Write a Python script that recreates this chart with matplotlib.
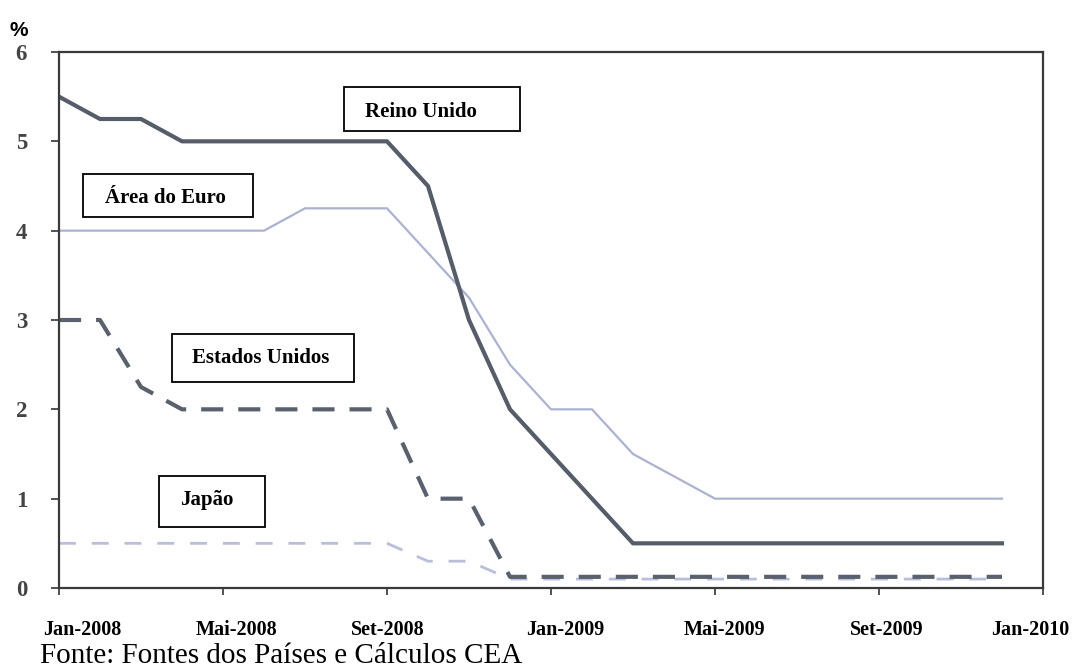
import matplotlib
matplotlib.use("Agg")
import matplotlib.pyplot as plt
from matplotlib.patches import Rectangle
import matplotlib.transforms as mtransforms

# Policy rates, monthly from Jan-2008 (month 0) to Dec-2009 (month 23)
months = list(range(24))
reino_unido = [5.5, 5.25, 5.25, 5.0, 5.0, 5.0, 5.0, 5.0, 5.0, 4.5, 3.0, 2.0,
               1.5, 1.0, 0.5, 0.5, 0.5, 0.5, 0.5, 0.5, 0.5, 0.5, 0.5, 0.5]
area_euro = [4.0, 4.0, 4.0, 4.0, 4.0, 4.0, 4.25, 4.25, 4.25, 3.75, 3.25, 2.5,
             2.0, 2.0, 1.5, 1.25, 1.0, 1.0, 1.0, 1.0, 1.0, 1.0, 1.0, 1.0]
estados_unidos = [3.0, 3.0, 2.25, 2.0, 2.0, 2.0, 2.0, 2.0, 2.0, 1.0, 1.0, 0.125,
                  0.125, 0.125, 0.125, 0.125, 0.125, 0.125, 0.125, 0.125, 0.125,
                  0.125, 0.125, 0.125]
japao = [0.5, 0.5, 0.5, 0.5, 0.5, 0.5, 0.5, 0.5, 0.5, 0.3, 0.3, 0.1,
         0.1, 0.1, 0.1, 0.1, 0.1, 0.1, 0.1, 0.1, 0.1, 0.1, 0.1, 0.1]

tick_months = [0, 4, 8, 12, 16, 20, 24]
tick_labels = ["Jan-2008", "Mai-2008", "Set-2008", "Jan-2009",
               "Mai-2009", "Set-2009", "Jan-2010"]
# where each date label sits (in months), slightly off the tick marks
label_months = [0.56, 4.34, 8.02, 12.34, 16.24, 20.2, 23.7]

serif = ["Liberation Serif", "DejaVu Serif"]

fig = plt.figure(figsize=(10.74, 6.69), dpi=100)
ax = fig.add_axes([59 / 1074, 81 / 669, 984 / 1074, 536 / 669])

ax.plot(months, japao, color="#b9bee0", linewidth=2.0, dashes=(6.1, 5.7))
ax.plot(months, area_euro, color="#aab2d6", linewidth=1.6)
ax.plot(months, estados_unidos, color="#59616e", linewidth=3.0, dashes=(5.3, 3.6))
ax.plot(months, reino_unido, color="#555d6a", linewidth=3.0)

ax.set_xlim(0, 24)
ax.set_ylim(0, 6)
ax.set_xticks(tick_months)
ax.set_xticklabels([])
ax.set_yticks(range(7))
ax.set_yticklabels([str(v) for v in range(7)], fontfamily=serif,
                   fontweight="bold", fontsize=16.5, color="#444444")
ax.tick_params(axis="y", direction="out", length=6, width=1.3,
               color="#444444", pad=17)
ax.tick_params(axis="x", direction="out", length=5, width=1.3, color="#444444")
for sp in ax.spines.values():
    sp.set_color("#3a3a3a")
    sp.set_linewidth(1.6)

trans = mtransforms.blended_transform_factory(ax.transData, fig.transFigure)
for m, lab in zip(label_months, tick_labels):
    ax.text(m, 1 - 630 / 669, lab, transform=trans, ha="center", va="center",
            fontfamily=serif, fontweight="bold", fontsize=14.5, color="black")

fig.text(40 / 1074, 1 - 656 / 669, "Fonte: Fontes dos Países e Cálculos CEA",
         ha="left", va="center", fontfamily=serif, fontsize=21, color="black")
fig.text(10 / 1074, 1 - 31 / 669, "%", ha="left", va="center",
         fontfamily=["Liberation Sans", "DejaVu Sans"], fontweight="bold",
         fontsize=15, color="black")

# series name boxes: (left, top, right, bottom) in pixels, text left edge, text centre y
boxes = [
    ("Reino Unido", (344, 87, 520, 131), 365, 112),
    ("Área do Euro", (83, 174, 253, 217), 105, 198),
    ("Estados Unidos", (172, 334, 354, 382), 192, 358),
    ("Japão", (159, 476, 265, 527), 180, 500),
]
W, H = 1074, 669
for name, (x0, y0, x1, y1), tx, ty in boxes:
    fig.patches.append(Rectangle((x0 / W, 1 - y1 / H), (x1 - x0) / W, (y1 - y0) / H,
                                 transform=fig.transFigure, facecolor="white",
                                 edgecolor="black", linewidth=1.3, zorder=5))
    fig.text(tx / W, 1 - ty / H, name, ha="left", va="center", fontfamily=serif,
             fontweight="bold", fontsize=15, color="black", zorder=6)

fig.savefig("out.png", dpi=100)
